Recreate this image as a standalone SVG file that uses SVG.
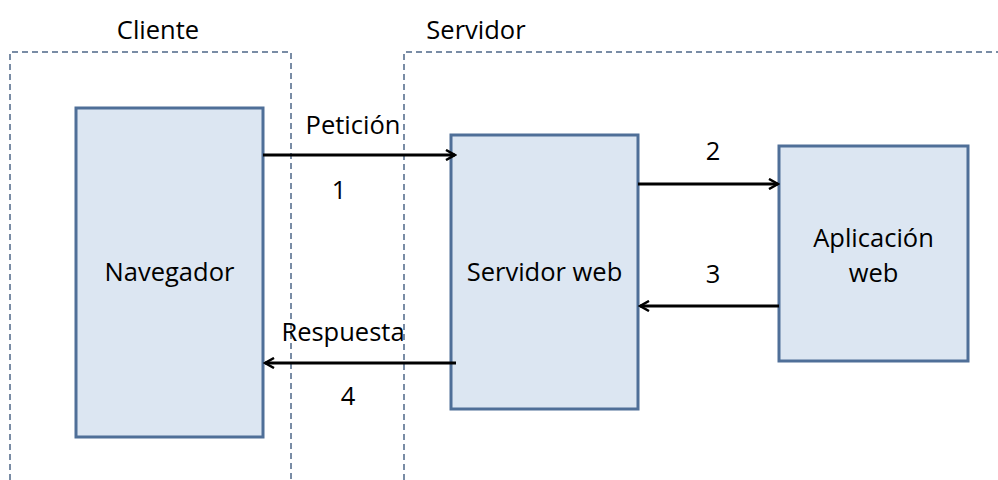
<svg xmlns="http://www.w3.org/2000/svg" width="998" height="480" viewBox="0 0 998 480">
<defs>
<style>
.zone{fill:none;stroke:#4e6788;stroke-width:1.5;stroke-dasharray:6,4}
.box{fill:#dce6f2;stroke:#4f6f98;stroke-width:3}
.t{font-family:"Open Sans","Liberation Sans",sans-serif;font-size:25.5px;fill:#000}
.m{text-anchor:middle}
.c{stroke:#000;stroke-width:3;fill:none}
</style>
<marker id="ah" viewBox="0 0 12 12" refX="10" refY="6" markerWidth="12" markerHeight="12" markerUnits="userSpaceOnUse" orient="auto">
<path d="M1,1 L10,6 L1,11" fill="none" stroke="#000" stroke-width="2.5"/>
</marker>
</defs>
<rect width="998" height="480" fill="#fff"/>
<g id="cliente">
<path class="zone" d="M10,490 V52 H291 V490"/>
<text class="t m" x="158" y="39">Cliente</text>
</g>
<g id="servidor">
<path class="zone" d="M404,490 V52 H1010"/>
<text class="t m" x="476" y="39">Servidor</text>
</g>
<g id="navegador">
<rect class="box" x="76" y="108" width="187" height="329"/>
<text class="t m" x="169.5" y="281">Navegador</text>
</g>
<g id="servidor-web">
<rect class="box" x="451" y="135" width="187" height="274"/>
<text class="t m" x="544.5" y="281">Servidor web</text>
</g>
<g id="aplicacion-web">
<rect class="box" x="779" y="146" width="189" height="215"/>
<text class="t m" x="873.5" y="247">Aplicación</text>
<text class="t m" x="873.5" y="282">web</text>
</g>
<g id="connectors">
<line class="c" x1="263" y1="155" x2="455" y2="155" marker-end="url(#ah)"/>
<line class="c" x1="638" y1="184" x2="778" y2="184" marker-end="url(#ah)"/>
<line class="c" x1="779" y1="306" x2="640" y2="306" marker-end="url(#ah)"/>
<line class="c" x1="456" y1="363" x2="265" y2="363" marker-end="url(#ah)"/>
<text class="t m" x="353" y="134">Petición</text>
<text class="t m" x="339" y="199">1</text>
<text class="t m" x="713" y="160">2</text>
<text class="t m" x="713" y="283">3</text>
<text class="t m" x="343" y="341">Respuesta</text>
<text class="t m" x="348" y="405">4</text>
</g>
</svg>
